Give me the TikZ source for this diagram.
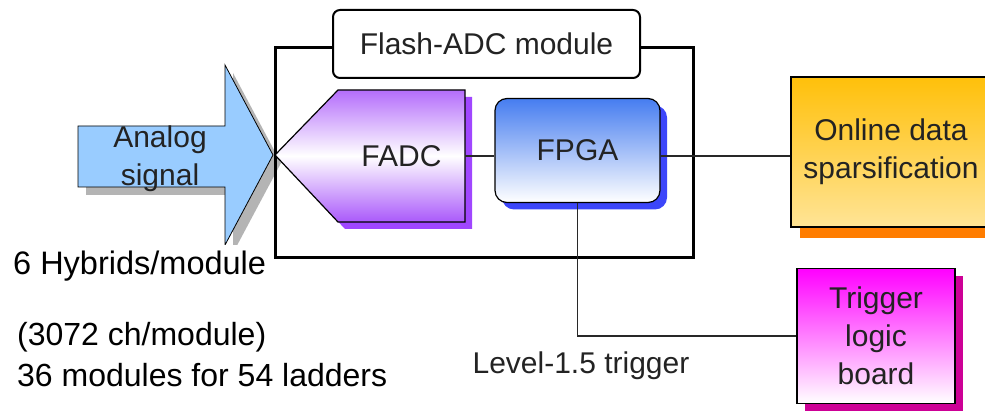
\documentclass[tikz,border=0pt]{standalone}
\usepackage{fontspec}
\setmainfont{Liberation Sans}
\usetikzlibrary{shadows}

\definecolor{analogblue}{RGB}{153,204,255}
\definecolor{arrowshadow}{RGB}{180,180,180}
\definecolor{fadcpurple}{RGB}{155,60,250}
\definecolor{fadcshadow}{RGB}{160,70,255}
\definecolor{fpgablue}{RGB}{70,125,240}
\definecolor{fpgashadow}{RGB}{60,70,250}
\definecolor{onlinetop}{RGB}{255,192,10}
\definecolor{onlinebot}{RGB}{255,228,150}
\definecolor{onlineshadow}{RGB}{255,125,0}
\definecolor{trigpink}{RGB}{255,0,255}
\definecolor{trigshadow}{RGB}{205,0,150}
\definecolor{textgray}{RGB}{35,35,35}
\definecolor{wiregray}{RGB}{40,40,40}

\begin{document}
\begin{tikzpicture}[x=1pt, y=-1pt, font=\fontsize{30}{38}\selectfont, inner sep=2pt,
	box/.style={draw, line width=1.2pt, align=center, text=textgray},
	wire/.style={line width=1.2pt, draw=wiregray},
	note/.style={anchor=west, font=\fontsize{32}{38}\selectfont}]
	\useasboundingbox (0,0) rectangle (985,411);

	% analog input arrow
	\fill [arrowshadow, shift={(8,8)}] (78,126) -- (225,126) -- (225,65) -- (273,155) -- (225,245) -- (225,187) -- (78,187) -- cycle;
	\draw [fill=analogblue, line width=0.8pt] (78,126) -- (225,126) -- (225,65) -- (273,155) -- (225,245) -- (225,187) -- (78,187) -- cycle;
	\node [align=center, text=textgray] (analog) at (160,159) {Analog\\signal};

	% module frame
	\draw [line width=3pt] (275,48) rectangle (693,258);

	% FADC
	\fill [fadcshadow, shift={(7,7)}] (275,155) -- (338,90) -- (465,90) -- (465,222) -- (338,222) -- cycle;
	\draw [line width=1.2pt, top color=fadcpurple!75, bottom color=fadcpurple!85, middle color=white] (275,155) -- (338,90) -- (465,90) -- (465,222) -- (338,222) -- cycle;
	\node [minimum width=127pt, minimum height=132pt, inner sep=0pt, text=textgray] (fadc) at (401.5,156) {FADC};

	\node [box, rounded corners=12pt, minimum width=165pt, minimum height=104pt, top color=fpgablue, bottom color=white, general shadow={fill=fpgashadow, shadow xshift=7pt, shadow yshift=-7pt}] (fpga) at (577.5,150.5) {FPGA};
	\node [box, line width=2pt, rounded corners=7pt, fill=white, minimum width=307pt, minimum height=68pt] (title) at (486.5,44) {Flash-ADC module};

	\node [box, minimum width=200pt, minimum height=150pt, top color=onlinetop, bottom color=onlinebot, general shadow={fill=onlineshadow, shadow xshift=9pt, shadow yshift=-11pt}] (online) at (891,152) {Online data\\sparsification};
	\node [box, minimum width=158pt, minimum height=135pt, top color=trigpink, bottom color=white, general shadow={fill=trigshadow, shadow xshift=8pt, shadow yshift=-8pt}] (trig) at (876,336) {Trigger\\logic\\board};

	\draw [wire] (fadc.east) -- (fadc.east -| fpga.west);
	\draw [wire] (fadc.east -| fpga.east) -- (fadc.east -| online.west);
	\draw [wire] (fpga.south) |- (trig.west);

	\node [text=textgray] (level) at (581,366) {Level-1.5 trigger};
	\node [note, fill=white, inner xsep=3pt, minimum height=42pt, font=\fontsize{32.5}{38}\selectfont] (hybrids) at (10,266) {6 Hybrids/module};
	\node [note] (channels) at (15,337) {(3072 ch/module)};
	\node [note] (ladders) at (15,375) {36 modules for 54 ladders};
\end{tikzpicture}
\end{document}
